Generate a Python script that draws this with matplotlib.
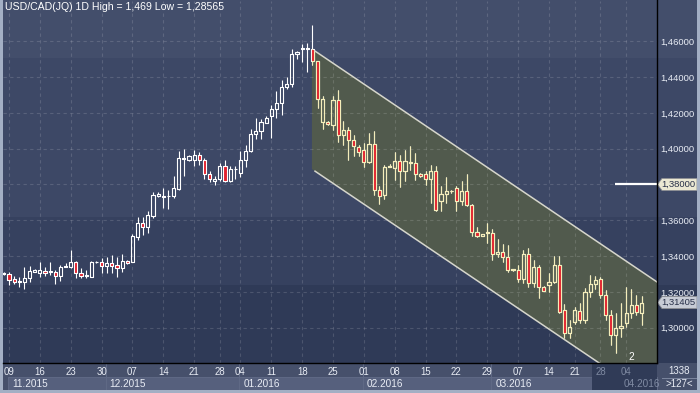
import datetime as dt
import numpy as np
import matplotlib
matplotlib.use("Agg")
import matplotlib.pyplot as plt
from matplotlib.patches import Rectangle, Polygon
from matplotlib.collections import PatchCollection, LineCollection

plt.rcParams['font.family'] = ['Liberation Sans', 'DejaVu Sans']

# ---- data ----
title = "USD/CAD(JQ) 1D High = 1,469 Low = 1,28565"

opens = [1.3298, 1.3300, 1.3271, 1.3257, 1.3257, 1.3276, 1.3313, 1.3308, 1.3319, 1.3310,
         1.3313, 1.3291, 1.3338, 1.3338, 1.3366, 1.3304, 1.3288, 1.3285, 1.3364, 1.3366,
         1.3347, 1.3360, 1.3350, 1.3332, 1.3371, 1.3369, 1.3509, 1.3584, 1.3561, 1.3625,
         1.3738, 1.3729, 1.3734, 1.3733, 1.3776, 1.3940, 1.3938, 1.3938, 1.3966, 1.3938,
         1.3858, 1.3822, 1.3830, 1.3905, 1.3817, 1.3884, 1.3864, 1.3934, 1.3985, 1.4081,
         1.4100, 1.4146, 1.4180, 1.4221, 1.4255, 1.4344, 1.4362, 1.4530, 1.4558, 1.4561,
         1.4556, 1.4488, 1.4151, 1.4151, 1.4134, 1.4274, 1.4078, 1.4106, 1.4050, 1.4009,
         1.3990, 1.3925, 1.4027, 1.3770, 1.3742, 1.3899, 1.3892, 1.3932, 1.3873, 1.3928,
         1.3920, 1.3860, 1.3860, 1.3830, 1.3878, 1.3705, 1.3746, 1.3761, 1.3780, 1.3705,
         1.3761, 1.3686, 1.3537, 1.3513, 1.3528, 1.3528, 1.3412, 1.3420, 1.3394, 1.3323,
         1.3323, 1.3271, 1.3412, 1.3248, 1.3341, 1.3229, 1.3239, 1.3257, 1.3351, 1.3099,
         1.2969, 1.3030, 1.3095, 1.3040, 1.3198, 1.3242, 1.3271, 1.3183, 1.3071, 1.2959,
         1.2997, 1.3028, 1.3084, 1.3127, 1.3084]
highs = [1.3310, 1.3313, 1.3289, 1.3282, 1.3338, 1.3345, 1.3325, 1.3364, 1.3338, 1.3364,
         1.3323, 1.3351, 1.3360, 1.3435, 1.3375, 1.3332, 1.3323, 1.3373, 1.3372, 1.3388,
         1.3397, 1.3407, 1.3397, 1.3412, 1.3380, 1.3524, 1.3617, 1.3617, 1.3649, 1.3759,
         1.3757, 1.3783, 1.3770, 1.3849, 1.3988, 1.3999, 1.3966, 1.3994, 1.3979, 1.3947,
         1.3878, 1.3845, 1.3920, 1.3934, 1.3905, 1.3905, 1.3985, 1.4022, 1.4109, 1.4171,
         1.4165, 1.4180, 1.4245, 1.4320, 1.4381, 1.4401, 1.4557, 1.4546, 1.4582, 1.4588,
         1.4690, 1.4488, 1.4296, 1.4155, 1.4293, 1.4330, 1.4152, 1.4121, 1.4078, 1.4022,
         1.4031, 1.4087, 1.4096, 1.3789, 1.3910, 1.3914, 1.3979, 1.3966, 1.3994, 1.4016,
         1.3975, 1.3866, 1.3873, 1.3910, 1.3905, 1.3789, 1.3841, 1.3770, 1.3793, 1.3817,
         1.3860, 1.3690, 1.3565, 1.3526, 1.3587, 1.3550, 1.3494, 1.3468, 1.3463, 1.3330,
         1.3351, 1.3435, 1.3444, 1.3379, 1.3351, 1.3235, 1.3308, 1.3401, 1.3401, 1.3133,
         1.3043, 1.3115, 1.3136, 1.3220, 1.3292, 1.3289, 1.3282, 1.3211, 1.3099, 1.3084,
         1.3140, 1.3229, 1.3215, 1.3183, 1.3177]
lows = [1.3293, 1.3239, 1.3243, 1.3229, 1.3216, 1.3257, 1.3310, 1.3285, 1.3289, 1.3295,
        1.3243, 1.3263, 1.3338, 1.3332, 1.3280, 1.3276, 1.3280, 1.3282, 1.3362, 1.3308,
        1.3304, 1.3304, 1.3285, 1.3313, 1.3355, 1.3364, 1.3491, 1.3517, 1.3528, 1.3612,
        1.3730, 1.3668, 1.3664, 1.3724, 1.3770, 1.3849, 1.3929, 1.3905, 1.3910, 1.3830,
        1.3813, 1.3798, 1.3822, 1.3811, 1.3815, 1.3832, 1.3839, 1.3895, 1.3980, 1.4053,
        1.4056, 1.4143, 1.4062, 1.4174, 1.4190, 1.4334, 1.4343, 1.4502, 1.4483, 1.4428,
        1.4470, 1.4228, 1.4110, 1.4135, 1.4106, 1.4040, 1.4022, 1.3938, 1.3957, 1.3957,
        1.3900, 1.3920, 1.3742, 1.3690, 1.3720, 1.3895, 1.3826, 1.3785, 1.3817, 1.3882,
        1.3826, 1.3840, 1.3798, 1.3699, 1.3654, 1.3649, 1.3696, 1.3755, 1.3654, 1.3686,
        1.3677, 1.3513, 1.3506, 1.3510, 1.3472, 1.3378, 1.3397, 1.3369, 1.3313, 1.3318,
        1.3257, 1.3252, 1.3229, 1.3229, 1.3164, 1.3203, 1.3201, 1.3248, 1.3081, 1.2941,
        1.2941, 1.3020, 1.3025, 1.3025, 1.3173, 1.3215, 1.3164, 1.3043, 1.2903, 1.28565,
        1.2950, 1.3006, 1.3056, 1.3071, 1.3015]
closes = [1.3305, 1.3267, 1.3257, 1.3261, 1.3276, 1.3317, 1.3322, 1.3323, 1.3304, 1.3315,
          1.3291, 1.3341, 1.3347, 1.3369, 1.3304, 1.3291, 1.3295, 1.3368, 1.3368, 1.3347,
          1.3360, 1.3347, 1.3332, 1.3373, 1.3360, 1.3513, 1.3584, 1.3561, 1.3630, 1.3742,
          1.3746, 1.3737, 1.3738, 1.3780, 1.3948, 1.3948, 1.3957, 1.3966, 1.3934, 1.3858,
          1.3830, 1.3831, 1.3905, 1.3817, 1.3886, 1.3887, 1.3934, 1.3985, 1.4081, 1.4100,
          1.4147, 1.4171, 1.4221, 1.4255, 1.4344, 1.4362, 1.4530, 1.4539, 1.4561, 1.4556,
          1.4488, 1.4278, 1.4276, 1.4138, 1.4274, 1.4078, 1.4106, 1.4050, 1.4013, 1.3979,
          1.3925, 1.4027, 1.3770, 1.3738, 1.3900, 1.3904, 1.3932, 1.3873, 1.3932, 1.3920,
          1.3860, 1.3845, 1.3830, 1.3878, 1.3658, 1.3748, 1.3761, 1.3766, 1.3705, 1.3766,
          1.3686, 1.3537, 1.3513, 1.3522, 1.3537, 1.3412, 1.3425, 1.3394, 1.3323, 1.3326,
          1.3271, 1.3412, 1.3248, 1.3338, 1.3226, 1.3207, 1.3257, 1.3351, 1.3090, 1.2969,
          1.3006, 1.3097, 1.3043, 1.3198, 1.3242, 1.3267, 1.3183, 1.3071, 1.2959, 1.2997,
          1.3009, 1.3084, 1.3127, 1.3089, 1.31405]

# sessions run Sunday..Friday; a few gaps show on the time axis
first_day = dt.date(2015, 11, 8)
last_day = dt.date(2016, 4, 7)
holidays = [dt.date(2015, 12, 25), dt.date(2016, 1, 1), dt.date(2016, 1, 3)]
last_sunday_session = dt.date(2016, 3, 13)

price_ticks = [1.30, 1.32, 1.34, 1.36, 1.38, 1.40, 1.42, 1.44, 1.46]
alert_level = 1.38
alert_from_bar = 118.8
last_price = 1.31405

# channel: starts on bar 60, parallel lines
channel_start = 59.9
channel_top = 1.4557
channel_bottom = 1.3886
channel_slope = -0.00194
channel_label = "2"

bars_total = "1338"
bars_visible = ">127<"

# ---- colours ----
RED = '#e2212e'
CREAM = '#f4edba'
TXT = '#e9edf5'
DIM = '#7f8aa2'
PANEL = '#46506b'
bands = [(0, 58, '#434e6b'), (58, 217, '#3d4866'), (217, 285, '#36415f'), (285, 363, '#2f3a57')]

days = []
d = first_day
while d <= last_day:
    wd = d.weekday()
    skip = wd == 5 or d in holidays or (wd == 6 and d > last_sunday_session)
    if not skip:
        days.append(d)
    d += dt.timedelta(days=1)

W, H = 700, 393
fig = plt.figure(figsize=(7, 3.93), dpi=100)
fig.patch.set_facecolor(PANEL)

bg = fig.add_axes([0, 0, 1, 1], zorder=0)
bg.set_xlim(0, W)
bg.set_ylim(H, 0)
bg.axis('off')
for y0, y1, col in bands:
    bg.add_patch(Rectangle((0, y0), W, y1 - y0, color=col, lw=0))

PL, PR, PT, PB = 3, 657, 1, 363
ax = fig.add_axes([PL / W, (H - PB) / H, (PR - PL) / W, (PB - PT) / H], zorder=2)
ax.set_facecolor('none')
ax.set_xlim(-0.17, 127.0)
ax.set_ylim(1.28025, 1.4825)
for s in ax.spines.values():
    s.set_visible(False)

x = np.arange(len(days))
o, hi, lo, c = (np.array(v) for v in (opens, highs, lows, closes))
up = c >= o
top = np.maximum(o, c)
bot = np.minimum(o, c)

# channel
xe = 130
chan = Polygon([(channel_start, channel_top),
                (xe, channel_top + channel_slope * (xe - channel_start)),
                (xe, channel_bottom + channel_slope * (xe - channel_start)),
                (channel_start, channel_bottom)],
               closed=True, fc='#515a4d', ec='none', zorder=1)
ax.add_patch(chan)
for base in (channel_top, channel_bottom):
    ax.plot([channel_start + 0.6, xe], [base + channel_slope * 0.6, base + channel_slope * (xe - channel_start)],
            color='#d6d6cc', lw=1.1, zorder=3)

# grid + ticks
mondays = [i for i, day in enumerate(days) if day.weekday() == 0]
ax.set_xticks(mondays)
ax.set_xticklabels([days[i].strftime('%d') for i in mondays])
ax.set_yticks(price_ticks)
ax.set_yticklabels([('%.5f' % p).replace('.', ',') for p in price_ticks])
ax.set_axisbelow('line')
ax.grid(True, color='white', alpha=0.14, lw=0.8, ls=(0, (3, 3)))
ax.yaxis.tick_right()
ax.tick_params(axis='y', length=0, pad=2.2, labelsize=6.8, labelcolor=TXT)
ax.tick_params(axis='x', length=0, pad=3.0, labelsize=6.9, labelcolor=TXT)


def candles(edge, clip=None):
    bw = 0.62
    segs = [[(i, top[i]), (i, hi[i])] for i in x] + [[(i, lo[i]), (i, bot[i])] for i in x]
    wick = LineCollection(segs, colors=edge, linewidths=0.8, zorder=2.5)
    rects = [Rectangle((i - bw / 2, bot[i]), bw, max(top[i] - bot[i], 0.00012)) for i in x]
    faces = [(0, 0, 0, 0) if u else matplotlib.colors.to_rgba(RED) for u in up]
    body = PatchCollection(rects, facecolors=faces, edgecolors=edge, linewidths=0.8, zorder=2.6)
    ax.add_collection(wick)
    ax.add_collection(body)
    if clip is not None:
        wick.set_clip_path(clip)
        body.set_clip_path(clip)


candles('white')
candles(CREAM, clip=chan)

ax.plot([alert_from_bar, 127.0], [alert_level, alert_level], color='white', lw=1.6, zorder=3,
        solid_capstyle='butt')
ax.text(121.9, 1.2835, channel_label, color='white', fontsize=7.2, ha='center', va='center', zorder=4)


def px(i):
    return ax.transData.transform((i, 0))[0]


# bottom time panel (drawn behind the tick labels)
starts = [0] + [i for i in range(1, len(days)) if days[i].month != days[i - 1].month]
box_x = []
for k, i in enumerate(starts):
    x0 = max(px(i) - 1, PL + 5)
    x1 = px(starts[k + 1]) - 1 if k + 1 < len(starts) else PR
    box_x.append(x0)
    bg.add_patch(Rectangle((x0, 377), x1 - x0, 13, fc='#56607d', ec='#626c88', lw=0.6, zorder=1))
    if i > 0:
        bg.plot([x0, x0], [PB + 1, 390], color='#5f6985', lw=0.8, zorder=1)
shade_x = 592
bg.add_patch(Rectangle((shade_x, PB + 0.6), PR - shade_x, 390 - PB, color='#303b57', lw=0, zorder=2))
bg.plot([662, 696], [377.5, 377.5], color='#7c869e', lw=0.7, zorder=2)

fg = fig.add_axes([0, 0, 1, 1], zorder=3)
fg.set_xlim(0, W)
fg.set_ylim(H, 0)
fg.axis('off')
fg.plot([PR, PR], [0, PB], color='black', lw=1.0)
fg.plot([PL, PR], [PB, PB], color='black', lw=1.0)

for x0, i in zip(box_x, starts):
    col = DIM if x0 >= shade_x else TXT
    fg.text(x0 + 4, 384, days[i].strftime('%m.%Y'), color=col, fontsize=7.2, va='center', ha='left')
for lab in ax.get_xticklabels():
    if px(lab.get_position()[0]) >= shade_x:
        lab.set_color(DIM)

fg.text(679, 371, bars_total, color=TXT, fontsize=7.0, ha='center', va='center')
fg.text(679, 384, bars_visible, color=TXT, fontsize=7.0, ha='center', va='center')

# price tags on the right axis
for val, col in ((alert_level, '#ebe8d3'), (last_price, '#c7cbd5')):
    yc = H - ax.transData.transform((0, val))[1]
    fg.add_patch(Polygon([(PR + 0.5, yc), (PR + 5, yc - 6), (697, yc - 6), (697, yc + 6), (PR + 5, yc + 6)],
                         closed=True, fc=col, ec='#8d8f94', lw=0.6))
    fg.text(678, yc + 0.3, ('%.5f' % val).replace('.', ','), color='#283049', fontsize=6.8,
            ha='center', va='center')

# outer border
fg.add_patch(Rectangle((0, 0), 3, H, color='#a3afc4', lw=0))
fg.add_patch(Rectangle((0, 390), W, 3, color='#a3afc4', lw=0))
fg.add_patch(Rectangle((697, 0), 3, H, color='#a3afc4', lw=0))

fg.text(5, 10.5, title, color='white', fontsize=7.6, ha='left', va='baseline')

fig.savefig('out.png', dpi=100, facecolor=fig.get_facecolor())
